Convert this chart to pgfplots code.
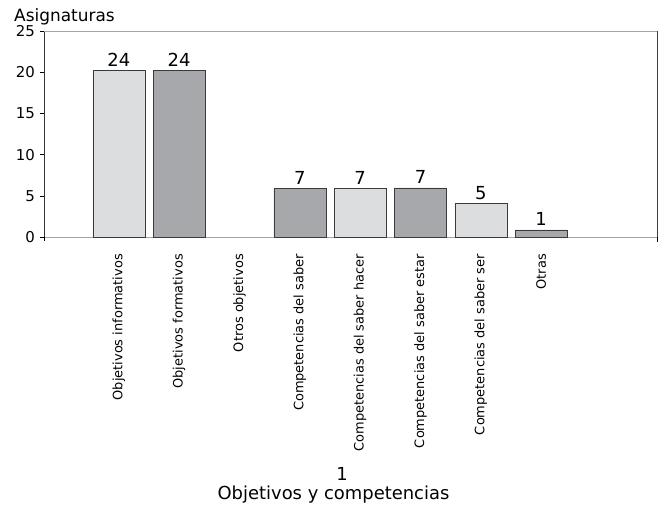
\documentclass[border=0pt]{standalone}
\usepackage{fontspec}
\setmainfont{DejaVu Sans}
\usepackage{pgfplots}
\pgfplotsset{compat=1.18}
\definecolor{lightbar}{HTML}{DCDDDF}
\definecolor{darkbar}{HTML}{A7A8AC}
\definecolor{edge}{HTML}{3A3A3A}
\begin{document}
\begin{tikzpicture}
\path[use as bounding box] (-44bp,-270bp) rectangle (619bp,237bp);
\begin{axis}[
 at={(0,0)}, anchor=south west,
 scale only axis, width=613bp, height=206bp,
 xmin=-1.24, xmax=8.92, ymin=0, ymax=25,
 axis x line=bottom, axis y line=left, axis line style={-},
 x axis line style={draw=black!35, line width=0.8bp},
 y axis line style={draw=black!80, line width=0.6bp},
 ytick={0,5,...,25},
 ytick style={draw=black, line width=0.6bp},
 tick align=outside, major tick length=4bp,
 xtick={0,...,7}, xtick style={draw=none},
 xticklabels={Objetivos informativos, Objetivos formativos, Otros objetivos, Competencias del saber, Competencias del saber hacer, Competencias del saber estar, Competencias del saber ser, Otras},
 xticklabel style={rotate=90, anchor=east, inner sep=0pt, font=\fontsize{13}{15}\selectfont},
 xticklabel shift=13bp,
 yticklabel style={font=\fontsize{15}{17}\selectfont, inner sep=0pt},
 yticklabel shift=5bp,
 /pgf/number format/assume math mode=true,
 ybar, bar width=52bp,
 nodes near coords, point meta=explicit symbolic,
 nodes near coords style={font=\fontsize{18}{20}\selectfont, inner sep=4bp, anchor=south},
 clip=false,
]
\addplot[fill=lightbar, draw=edge, bar shift=0pt] coordinates {(0,20.2) [24] (4,5.9) [7] (6,4.05) [5]};
\addplot[fill=darkbar, draw=edge, bar shift=0pt] coordinates {(1,20.2) [24] (3,5.9) [7] (5,5.95) [7] (7,0.85) [1]};
\draw[black!35, line width=0.8bp] (rel axis cs:0,1) -- (rel axis cs:1,1);
\draw[black!75, line width=0.6bp] (rel axis cs:1,0) -- (rel axis cs:1,1);
\draw[line width=0.6bp] (rel axis cs:0,0) -- ([yshift=-4bp]rel axis cs:0,0);
\draw[line width=0.6bp] (rel axis cs:1,0) -- ([yshift=-5bp]rel axis cs:1,0);
\end{axis}
\node[anchor=base west, font=\fontsize{17}{20}\selectfont, inner sep=0pt] at (-30bp, 215bp) {Asignaturas};
\node[anchor=base, font=\fontsize{18}{20}\selectfont, inner sep=0pt] at (298bp, -243bp) {1};
\node[anchor=base, font=\fontsize{18}{20}\selectfont, inner sep=0pt] at (289.5bp, -262bp) {Objetivos y competencias};
\end{tikzpicture}
\end{document}
